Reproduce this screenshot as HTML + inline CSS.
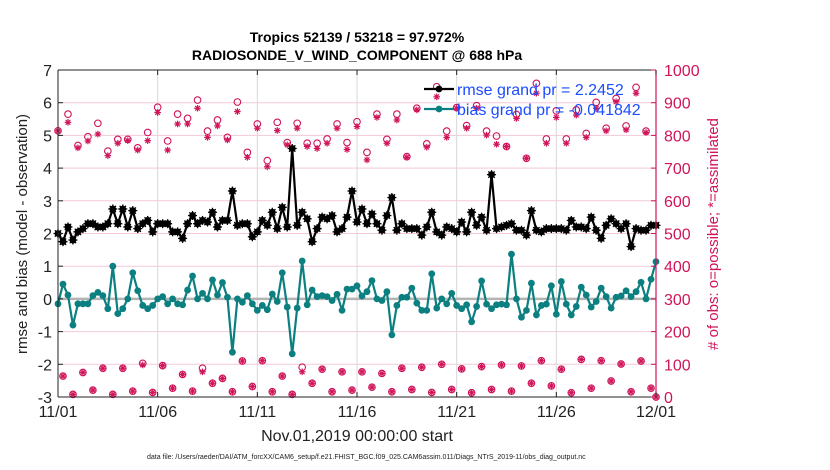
<!DOCTYPE html>
<html><head><meta charset="utf-8">
<style>
html,body{margin:0;padding:0;background:#fff;}
svg{display:block;font-family:"Liberation Sans",Arial,sans-serif;}
</style></head>
<body>
<svg id="chart" width="830" height="470" viewBox="0 0 830 470" xmlns="http://www.w3.org/2000/svg">
<text x="357" y="42" text-anchor="middle" font-size="14" font-weight="bold">Tropics 52139 / 53218 = 97.972%</text>
<text x="357" y="60" text-anchor="middle" font-size="14" font-weight="bold">RADIOSONDE_V_WIND_COMPONENT @ 688 hPa</text>
<g id="grid"></g>
<g id="obs"></g>
<g id="lines"></g>
<g id="axes"></g>
<text transform="translate(27,234) rotate(-90)" text-anchor="middle" font-size="15" fill="#222">rmse and bias (model - observation)</text>
<text transform="translate(718,234) rotate(-90)" text-anchor="middle" font-size="15" fill="#d0145a"># of obs: o=possible; *=assimilated</text>
<text x="357" y="441" text-anchor="middle" font-size="16" fill="#222">Nov.01,2019 00:00:00 start</text>
<text x="147" y="459" font-size="7" fill="#222">data file: /Users/raeder/DAI/ATM_forcXX/CAM6_setup/f.e21.FHIST_BGC.f09_025.CAM6assim.011/Diags_NTrS_2019-11/obs_diag_output.nc</text>
<g id="legend"></g>
</svg>
<script>
const rmse=[2.0,1.75,2.2,1.8,2.05,2.15,2.3,2.3,2.2,2.2,
2.3,2.75,2.3,2.75,2.2,2.7,2.15,2.3,2.4,2.05,
2.3,2.3,2.3,2.05,2.05,1.85,2.3,2.55,2.3,2.4,
2.35,2.65,2.2,2.4,2.4,3.3,2.25,2.3,2.3,1.9,
2.05,2.4,2.25,2.65,2.15,2.8,2.2,4.6,2.25,2.65,
2.45,1.75,2.15,2.5,2.45,2.55,2.05,2.15,2.5,3.3,
2.35,2.75,2.3,2.6,2.3,2.1,2.55,3.1,2.1,2.3,
2.15,2.15,2.15,1.95,2.2,2.65,2.05,1.95,2.2,2.15,
2.05,2.35,2.05,2.65,2.25,2.5,2.1,3.8,2.15,2.2,
2.25,2.3,2.1,2.1,1.95,2.7,2.1,2.05,2.15,2.15,
2.15,2.15,2.1,2.4,2.2,2.2,2.15,2.5,2.1,1.85,
2.25,2.45,2.3,2.15,2.3,1.6,2.15,2.1,2.1,2.25,
2.25];
const bias=[-0.15,0.45,0.12,-0.8,-0.15,-0.15,-0.15,0.1,0.2,0.1,
-0.3,1.0,-0.45,-0.3,0,0.8,0.25,-0.2,-0.3,-0.2,
0,0.07,-0.15,0,-0.15,-0.18,0.27,0.7,0,0.17,
0,0.58,0.12,0.5,0.05,-1.63,0,-0.1,0.1,-0.15,
-0.35,-0.2,-0.33,0.15,-0.08,0.8,-0.25,-1.68,-0.28,1.16,
-0.18,0.27,0.07,0.1,0.07,-0.05,0.14,-0.35,0.3,0.3,
0.4,0.09,0.22,0.56,0,-0.05,0.22,-1.1,-0.2,0.05,
0.05,0.33,-0.13,-0.35,-0.35,0.77,-0.28,0,-0.15,0.17,
-0.2,-0.3,-0.18,-0.7,-0.23,0.55,-0.16,-0.3,-0.18,-0.16,
-0.18,1.37,0,-0.56,-0.35,0.48,-0.49,-0.2,-0.16,0.4,
-0.47,0.53,-0.16,-0.49,-0.23,0.36,0.12,-0.25,-0.08,0.33,
0.07,-0.28,0.05,0.09,0.25,0.07,0.22,0.51,0,0.6,
1.14];
const possible=[814,64,865,8,769,75,796,21,837,88,
752,8,788,88,788,18,762,103,809,14,
886,96,783,27,865,69,852,18,908,88,
813,42,847,57,794,16,902,110,748,32,
835,111,723,16,840,64,778,8,837,91,
776,42,776,85,789,16,835,77,778,21,
842,77,748,30,865,72,788,16,865,88,
735,23,883,91,774,14,949,100,813,23,
885,86,830,13,891,93,813,23,798,98,
766,18,864,95,730,42,959,111,789,34,
875,85,789,13,878,115,806,27,901,111,
822,49,913,101,829,16,947,110,813,27,
0];
const assimilated=[814,64,840,8,762,75,783,21,804,88,
738,8,776,88,784,18,755,98,784,14,
870,96,755,27,835,69,835,18,883,77,
794,42,829,57,786,16,873,110,733,32,
822,111,704,16,815,64,771,8,822,77,
766,42,760,85,776,16,822,77,757,21,
827,77,725,30,855,72,776,16,847,88,
733,23,878,91,764,14,918,100,794,23,
883,86,822,13,883,93,801,23,773,98,
766,18,852,95,730,42,929,111,776,34,
855,85,776,13,862,115,794,27,883,111,
814,49,903,101,817,16,929,110,809,27,
0];
const xTickLabels=["11/01","11/06","11/11","11/16","11/21","11/26","12/01"];
const yTicksLeft=[-3,-2,-1,0,1,2,3,4,5,6,7];
const yTicksRight=[0,100,200,300,400,500,600,700,800,900,1000];
const legendLabels=["rmse grand pr = 2.2452","bias grand pr = -0.041842"];

const NS="http://www.w3.org/2000/svg";
const L=58,R=656,T=70,B=397;
const DAYS=30, STEPS_PER_DAY=4;
const xS=i=>L+(i/STEPS_PER_DAY)*(R-L)/DAYS;
const xDay=d=>L+d*(R-L)/DAYS;
const yL=v=>B-(v+3)*(B-T)/10;
const yR=v=>B-v*(B-T)/1000;
const CR="#d0145a", TEAL="#0c8080";
function mk(tag,attrs,parent){const e=document.createElementNS(NS,tag);for(const k in attrs)e.setAttribute(k,attrs[k]);parent.appendChild(e);return e;}

const grid=document.getElementById('grid');
yTicksRight.forEach(v=>{
  const ln=mk('line',{x1:L,x2:R,y1:yR(v),y2:yR(v),stroke:"#f3c9d8","stroke-width":1},grid);
  
  
});
xTickLabels.forEach((t,k)=>{
  const ln=mk('line',{x1:xDay(k*5),x2:xDay(k*5),y1:T,y2:B,stroke:"#d8d8d8","stroke-width":1},grid);
  
  
});
const zl=mk('line',{x1:L,x2:R,y1:yL(0),y2:yL(0),stroke:"#b4b4b4","stroke-width":2.5},grid);



const obs=document.getElementById('obs');
function star(cx,cy,r,parent){
  const g=mk('g',{stroke:CR,"stroke-width":1.2},parent);
  for(let a=0;a<4;a++){const th=a*Math.PI/4;mk('line',{x1:cx-r*Math.cos(th),y1:cy-r*Math.sin(th),x2:cx+r*Math.cos(th),y2:cy+r*Math.sin(th)},g);}
  return g;
}
possible.forEach((v,i)=>{
  const c=mk('circle',{cx:xS(i),cy:yR(v),r:3.3,fill:"none",stroke:CR,"stroke-width":1.1},obs);
  
  
});
assimilated.forEach((v,i)=>{
  const s=star(xS(i),yR(v),3.3,obs);
  
  
});

const lines=document.getElementById('lines');
function series(arr,color,name,withStar){
  const pl=mk('polyline',{points:arr.map((v,i)=>xS(i)+","+yL(v)).join(" "),fill:"none",stroke:color,"stroke-width":2.2,"stroke-linejoin":"round"},lines);
  
  
  arr.forEach((v,i)=>{
    const c=mk('circle',{cx:xS(i),cy:yL(v),r:3.4,fill:color},lines);
    
    
    if(withStar){const g=mk('g',{stroke:color,"stroke-width":1.3},lines);for(let a=0;a<4;a++){const th=a*Math.PI/4;mk('line',{x1:xS(i)-4.5*Math.cos(th),y1:yL(v)-4.5*Math.sin(th),x2:xS(i)+4.5*Math.cos(th),y2:yL(v)+4.5*Math.sin(th)},g);}}
  });
}
series(bias,TEAL,'bias',false);
series(rmse,"#000",'rmse',true);

const axes=document.getElementById('axes');
mk('line',{x1:L,x2:R,y1:T,y2:T,stroke:"#222","stroke-width":1},axes);
mk('line',{x1:L,x2:R,y1:B,y2:B,stroke:"#222","stroke-width":1},axes);
mk('line',{x1:L,x2:L,y1:T,y2:B,stroke:"#222","stroke-width":1},axes);
const ra=mk('line',{x1:R,x2:R,y1:T,y2:B,stroke:CR,"stroke-width":1.2},axes);


yTicksLeft.forEach(v=>{
  mk('line',{x1:L,x2:L+5,y1:yL(v),y2:yL(v),stroke:"#222"},axes);
  const t=mk('text',{x:L-6,y:yL(v)+6,"text-anchor":"end","font-size":16,fill:"#222"},axes);
  t.textContent=v;
  
  
});
yTicksRight.forEach(v=>{
  mk('line',{x1:R-5,x2:R,y1:yR(v),y2:yR(v),stroke:CR},axes);
  const t=mk('text',{x:R+8,y:yR(v)+6,"font-size":16,fill:CR},axes);
  t.textContent=v;
  
  
});
xTickLabels.forEach((lab,k)=>{
  const x=xDay(k*5);
  mk('line',{x1:x,x2:x,y1:B,y2:B-5,stroke:"#222"},axes);
  mk('line',{x1:x,x2:x,y1:T,y2:T+5,stroke:"#222"},axes);
  const t=mk('text',{x:x,y:B+20,"text-anchor":"middle","font-size":16,fill:"#222"},axes);
  t.textContent=lab;
  
  
});

const lg=document.getElementById('legend');
[["#000",true],[TEAL,false]].forEach((s,k)=>{
  const y=89+k*20;
  mk('line',{x1:424,x2:454,y1:y,y2:y,stroke:s[0],"stroke-width":2.2},lg);
  mk('circle',{cx:439,cy:y,r:3.4,fill:s[0]},lg);
  const t=mk('text',{x:457,y:y+6,"font-size":16,fill:"#1a4dff"},lg);
  t.textContent=legendLabels[k];
  
  
});
</script>
</body></html>
